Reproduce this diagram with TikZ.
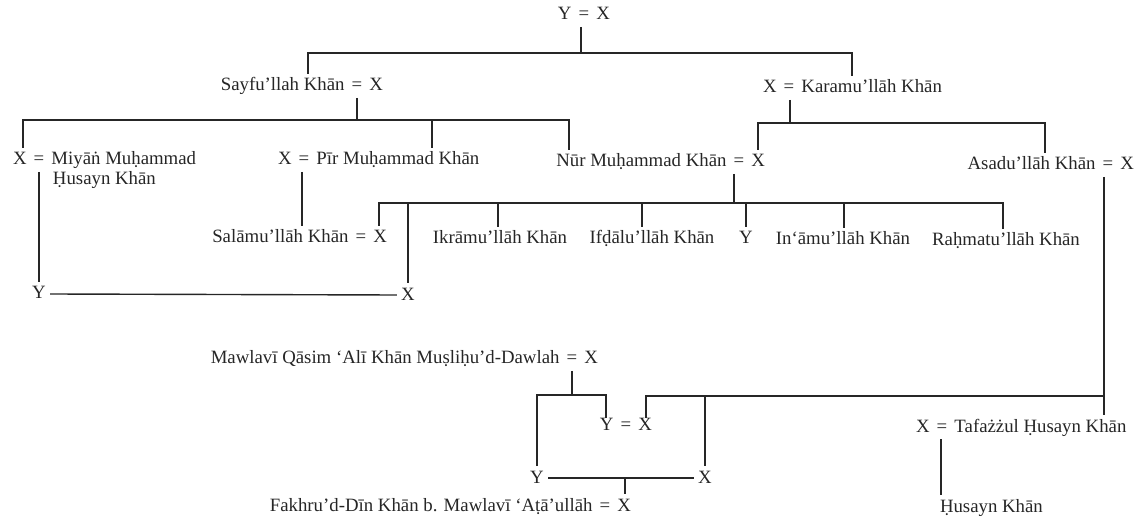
\documentclass[tikz,border=0pt]{standalone}
\usepackage{fontspec}
\setmainfont{Liberation Serif}
\newcommand{\eqsign}{\hspace{0.38em}=\hspace{0.38em}}
\begin{document}
\begin{tikzpicture}[x=0.5pt,y=-0.5pt,
  lbl/.style={inner xsep=0pt, inner ysep=1.5pt, outer sep=0pt, text height=7pt, text depth=2pt, font=\fontsize{9.4}{11}\selectfont, text=black!85},
  lx/.style={lbl, inner xsep=2.2pt},
  lnk/.style={line width=0.7pt, draw=black!85}]
\useasboundingbox (0,0) rectangle (1148,524);

% ---------- nodes ----------
\node[lbl] (top) at (584,15) {Y\eqsign X};
\node[lbl,anchor=east] (sayfu) at (383,86) {Sayfu’llah Khān\eqsign X};
\node[lbl,anchor=west] (karamu) at (763,88) {X\eqsign Karamu’llāh Khān};
\node[lbl,anchor=west] (miyan1) at (13,160) {X\eqsign Miyāṅ Muḥammad};
\node[lbl,anchor=west] (miyan2) at (53,180) {Ḥusayn Khān};
\node[lbl,anchor=west] (pir) at (278,160) {X\eqsign Pīr Muḥammad Khān};
\node[lbl,anchor=east] (nur) at (765,162) {Nūr Muḥammad Khān\eqsign X};
\node[lbl,anchor=east] (asad) at (1134,165) {Asadu’llāh Khān\eqsign X};
\node[lbl,anchor=east] (salam) at (387,238) {Salāmu’llāh Khān\eqsign X};
\node[lbl] (ikram) at (500,239) {Ikrāmu’llāh Khān};
\node[lbl] (ifdal) at (652,239) {Ifḍālu’llāh Khān};
\node[lbl] (ynur) at (746,239) {Y};
\node[lbl] (inam) at (843,240) {In‘āmu’llāh Khān};
\node[lbl] (rahmat) at (1006,241) {Raḥmatu’llāh Khān};
\node[lx] (yleft) at (39,294) {Y};
\node[lx] (xmid) at (408,295) {X};
\node[lbl,anchor=east] (mawlavi) at (598,359) {Mawlavī Qāsim ‘Alī Khān Muṣliḥu’d-Dawlah\eqsign X};
\node[lbl] (yx2) at (626,425) {Y\eqsign X};
\node[lx] (ybot) at (537,478) {Y};
\node[lx] (xbot) at (705,478) {X};
\node[lbl,anchor=east] (fakhru) at (631,506) {Fakhru’d-Dīn Khān b. Mawlavī ‘Aṭā’ullāh\eqsign X};
\node[lbl,anchor=west] (tafaz) at (916,427) {X\eqsign Tafażżul Ḥusayn Khān};
\node[lbl,anchor=west] (husayn) at (940,507) {Ḥusayn Khān};

% ---------- junction coordinates ----------
\coordinate (j0) at (581,53);
\coordinate (j0l) at (308,53);
\coordinate (j0r) at (852,53);
\coordinate (j1) at (357,120);
\coordinate (j1a) at (23,120);
\coordinate (j1b) at (432,120);
\coordinate (j1c) at (569,120);
\coordinate (j2) at (790,123);
\coordinate (j2a) at (758,123);
\coordinate (j2b) at (1045,123);
\coordinate (mv) at (39,170);
\coordinate (pv) at (302,170);
\coordinate (j3) at (734,203);
\coordinate (c1) at (379,203);
\coordinate (c2) at (408,203);
\coordinate (c3) at (498,203);
\coordinate (c4) at (642,203);
\coordinate (c5) at (746,203);
\coordinate (c6) at (844,203);
\coordinate (c7) at (1003,203);
\coordinate (a1) at (1104,396);
\coordinate (a2) at (646,396);
\coordinate (a3) at (705,396);
\coordinate (mj) at (572,395);
\coordinate (mja) at (537,395);
\coordinate (mjb) at (606,395);
\coordinate (bj) at (625,478);
\coordinate (tz) at (941,450);
\coordinate (yx2top) at ([yshift=-2.5pt]yx2.north);

% ---------- connectors ----------
\draw[lnk] (top.south -| j0) -- (j0);
\draw[lnk] (sayfu.north -| j0l) -- (j0l) -- (j0r) -- (karamu.north -| j0r);

\draw[lnk] (sayfu.south -| j1) -- (j1);
\draw[lnk] (miyan1.north -| j1a) -- (j1a) -- (j1c) -- (nur.north -| j1c);
\draw[lnk] (j1b) -- (pir.north -| j1b);

\draw[lnk] (karamu.south -| j2) -- (j2);
\draw[lnk] (nur.north -| j2a) -- (j2a) -- (j2b) -- (asad.north -| j2b);

\draw[lnk] (miyan1.south -| mv) -- (yleft.north);
\draw[lnk] (yleft.east) -- (xmid.west);

\draw[lnk] (pir.south -| pv) -- (salam.north -| pv);

\draw[lnk] (nur.south -| j3) -- (j3);
\draw[lnk] (salam.north -| c1) -- (c1) -- (c7) -- (rahmat.north -| c7);
\draw[lnk] (c2) -- (xmid.north);
\draw[lnk] (c3) -- (ikram.north -| c3);
\draw[lnk] (c4) -- (ifdal.north -| c4);
\draw[lnk] (c5) -- (ynur.north);
\draw[lnk] (c6) -- (inam.north -| c6);

\draw[lnk] (asad.south -| a1) -- (a1) -- (tafaz.north -| a1);
\draw[lnk] (a1) -- (a2) -- (yx2top -| a2);
\draw[lnk] (a3) -- (xbot.north);

\draw[lnk] (mawlavi.south -| mj) -- (mj);
\draw[lnk] (ybot.north -| mja) -- (mja) -- (mjb) -- (yx2top -| mjb);

\draw[lnk] (ybot.east) -- (xbot.west);
\draw[lnk] (bj) -- (fakhru.north -| bj);

\draw[lnk] (tafaz.south -| tz) -- (husayn.north -| tz);
\end{tikzpicture}
\end{document}
